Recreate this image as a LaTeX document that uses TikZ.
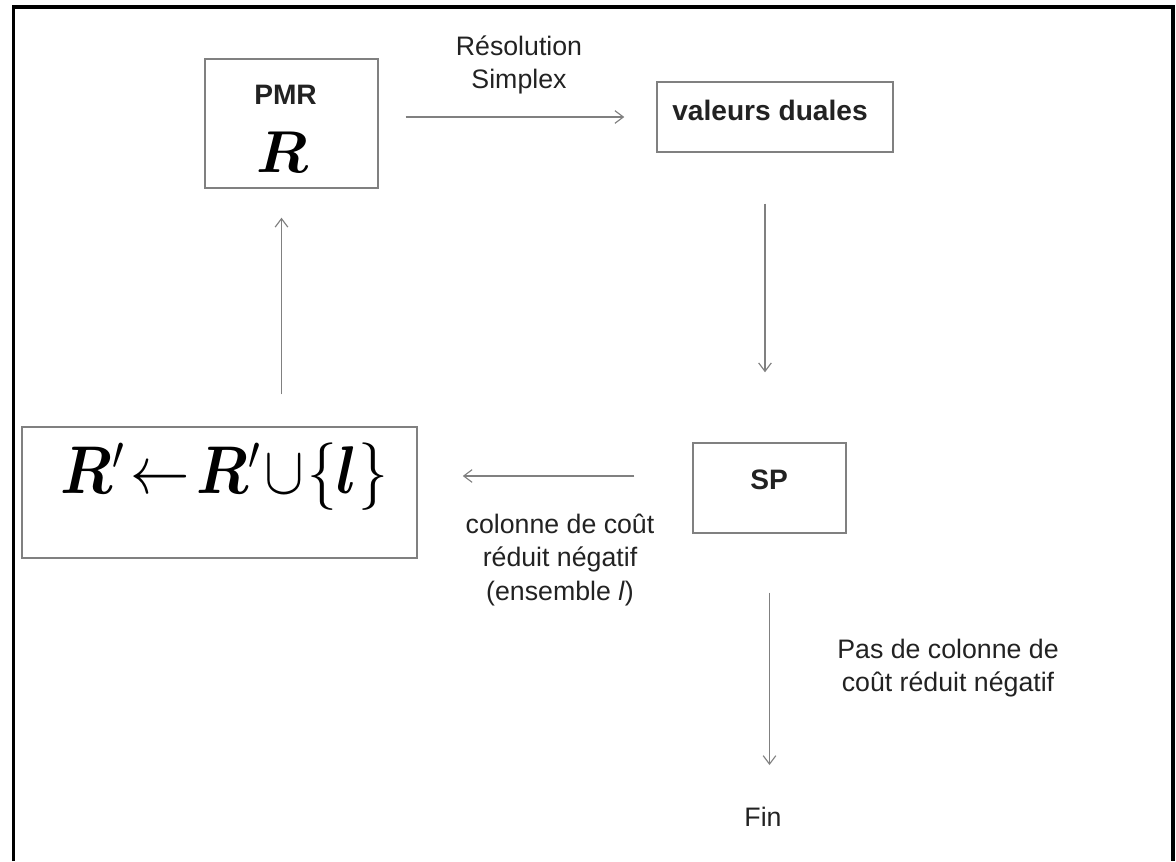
\RequirePackage{fix-cm}
\documentclass[tikz,border=0pt]{standalone}
\usepackage{amsmath}
\usepackage{fontspec}
\usepackage{bm}
\setmainfont{Liberation Sans}
\usetikzlibrary{arrows.meta}
\definecolor{linie}{HTML}{808080}
\definecolor{schrift}{HTML}{222222}
\begin{document}
\begin{tikzpicture}[x=0.025cm,y=-0.025cm,
	kasten/.style={draw=linie,line width=1pt,inner sep=0pt},
	pfeil/.style={draw=linie,line width=0.8pt,-{Straight Barb[length=6pt,width=9pt]}},
	txt/.style={text=schrift,inner sep=0pt,font=\fontsize{19}{23.5}\selectfont},
	fett/.style={text=schrift,inner sep=0pt,font=\fontsize{20}{24}\selectfont\bfseries},
	gross/.style={text=black,inner sep=0pt,font=\fontsize{#1}{#1}\selectfont}]
	\useasboundingbox (0,0) rectangle (1176,861);

	% Rahmen
	\draw[line width=2.2pt] (13.5,861) -- (13.5,7) -- (1173,7) -- (1173,861);

	% Kaesten
	\node[kasten,minimum width=4.325cm,minimum height=3.225cm] (pmr) at (291.5,123.5) {};
	\node[kasten,minimum width=5.9cm,minimum height=1.75cm] (val) at (775,117) {};
	\node[kasten,minimum width=3.825cm,minimum height=2.25cm] (sp) at (769.5,488) {};
	\node[kasten,minimum width=9.875cm,minimum height=3.275cm] (neu) at (219.5,492.5) {};

	% Inhalt der Kaesten
	\node[fett] (pmrtxt) at (285.5,95) {PMR};
	\node[gross=42] (pmrr) at (282,152) {$\bm{R}$};
	\node[fett] (valtxt) at (770,110) {valeurs duales};
	\node[fett] (sptxt) at (769,480) {SP};
	\node[gross=48,xscale=0.88,transform shape] (formel) at (224,477)
	{$\bm{R}^{\prime}\!\leftarrow\!\bm{R}^{\prime}\!\cup\!\{\bm{l}\}$};

	% Beschriftungen der Pfeile
	\node[txt,align=center] (simplex) at (519,65) {Résolution\\Simplex};
	\node[txt,align=center] (negatif) at (560,560) {colonne de coût\\réduit négatif\\(ensemble \textit{l})};
	\node[txt,align=center] (keine) at (948,668) {Pas de colonne de\\coût réduit négatif};
	\node[txt] (fin) at (763,817) {Fin};

	% Pfeile
	\draw[pfeil,shorten <=0.675cm,shorten >=0.8cm] (pmr.east |- val.west) -- (val.west);
	\draw[pfeil,shorten <=1.275cm,shorten >=1.75cm] ([xshift=-0.25cm]val.south) -- ([xshift=-0.25cm]val.south |- sp.north);
	\draw[pfeil,shorten <=1.45cm,shorten >=1.125cm] ([yshift=0.3cm]sp.west) -- ([yshift=0.3cm]sp.west -| neu.east);
	\draw[pfeil,shorten <=0.8cm,shorten >=0.725cm] ([xshift=-0.25cm]pmr.south |- neu.north) -- ([xshift=-0.25cm]pmr.south);
	\draw[pfeil,shorten <=1.475cm,shorten >=1.05cm] (sp.south) -- (sp.south |- fin.north);
\end{tikzpicture}
\end{document}
